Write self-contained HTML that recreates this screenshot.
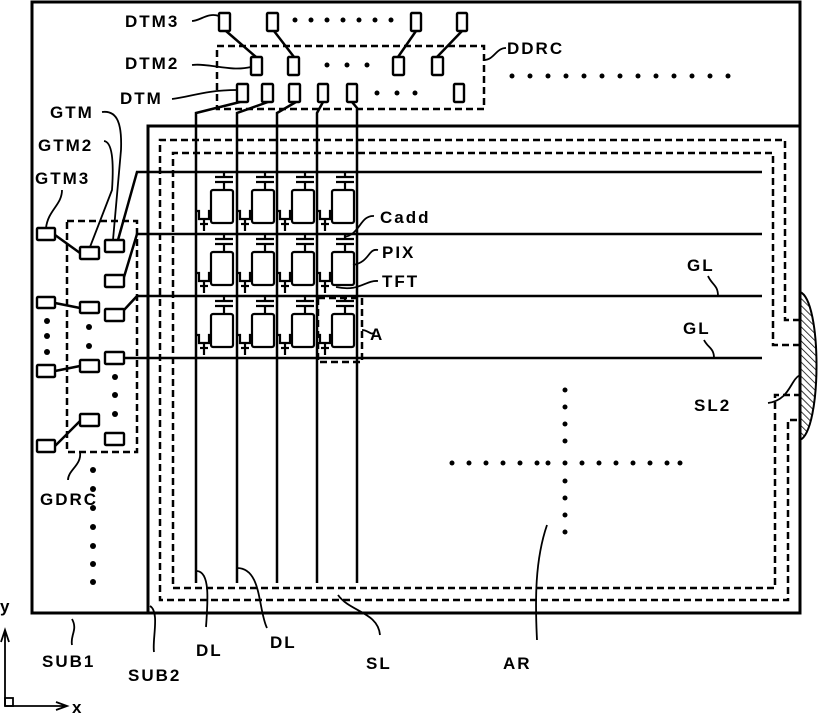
<!DOCTYPE html>
<html><head><meta charset="utf-8"><style>
html,body{margin:0;padding:0;background:#fff}
svg{display:block}
text{font-family:"Liberation Sans",sans-serif;font-size:17px;font-weight:bold;letter-spacing:2px;fill:#000}
</style></head><body>
<svg width="818" height="714" viewBox="0 0 818 714" xmlns="http://www.w3.org/2000/svg">
<defs>
<g id="px" fill="none" stroke="#000" stroke-width="2.2">
<line x1="28" y1="0" x2="28" y2="5"/>
<line x1="19" y1="5" x2="37" y2="5"/>
<line x1="19" y1="10" x2="37" y2="10"/>
<line x1="28" y1="10" x2="28" y2="18"/>
<rect x="15" y="18" width="22" height="33" rx="2"/>
<path d="M0,39 H3 V47 H13 V39 H15"/>
<line x1="8" y1="47" x2="8" y2="59"/>
<line x1="4" y1="52" x2="12" y2="52"/>
</g>
<pattern id="hat" width="5" height="5" patternUnits="userSpaceOnUse" patternTransform="rotate(-45)">
<line x1="0" y1="0" x2="0" y2="5" stroke="#000" stroke-width="1.5"/>
</pattern>
</defs>
<g fill="none" stroke="#000" stroke-width="3">
<rect x="32" y="2" width="768" height="611"/>
<path d="M148,613 V126 H800"/>
</g>
<path d="M800,292 C822,300 822,430 800,440 Z" fill="url(#hat)" stroke="#000" stroke-width="2"/>
<g fill="none" stroke="#000" stroke-width="2.5" stroke-dasharray="7,4">
<path d="M800,320 H785 V140 H160 V600 H788 V420 H800"/>
<path d="M800,345 H773 V153 H173 V588 H775 V395 H800"/>
<rect x="217" y="46" width="267" height="63"/>
<rect x="67" y="221" width="70" height="231"/>
<rect x="318" y="298" width="44" height="64"/>
</g>
<g stroke="#000" stroke-width="2.5" fill="none">
<path d="M118,240 L137,172 H762"/>
<path d="M124,277 L137,234 H762"/>
<path d="M124,310 L137,296 H762"/>
<path d="M124,358 H762"/>
<path d="M240,102 L196,113 V583"/>
<path d="M268,102 L237,113 V583"/>
<path d="M296,102 L277,113 V583"/>
<path d="M323,102 L317,113 V583"/>
<path d="M352,102 L357,108 V583"/>
<line x1="226" y1="31" x2="256" y2="57"/>
<line x1="274" y1="31" x2="294" y2="57"/>
<line x1="416" y1="31" x2="398" y2="57"/>
<line x1="462" y1="31" x2="437" y2="57"/>
<line x1="55" y1="235" x2="80" y2="253"/>
<line x1="55" y1="303" x2="80" y2="308"/>
<line x1="55" y1="371" x2="80" y2="366"/>
<line x1="55" y1="446" x2="80" y2="421"/>
</g>
<g fill="#fff" stroke="#000" stroke-width="2.4">
<rect x="219" y="13" width="11" height="18" rx="1"/>
<rect x="267" y="13" width="11" height="18" rx="1"/>
<rect x="411" y="13" width="10" height="18" rx="1"/>
<rect x="457" y="13" width="10" height="18" rx="1"/>
<rect x="251" y="57" width="11" height="18" rx="1"/>
<rect x="288" y="57" width="11" height="18" rx="1"/>
<rect x="393" y="57" width="11" height="18" rx="1"/>
<rect x="432" y="57" width="11" height="18" rx="1"/>
<rect x="237" y="84" width="11" height="18" rx="1"/>
<rect x="262" y="84" width="11" height="18" rx="1"/>
<rect x="289" y="84" width="11" height="18" rx="1"/>
<rect x="318" y="84" width="10" height="18" rx="1"/>
<rect x="347" y="84" width="10" height="18" rx="1"/>
<rect x="454" y="84" width="10" height="18" rx="1"/>
<rect x="37" y="228" width="18" height="12" rx="1"/>
<rect x="80" y="247" width="19" height="12" rx="1"/>
<rect x="105" y="240" width="19" height="12" rx="1"/>
<rect x="105" y="275" width="19" height="12" rx="1"/>
<rect x="37" y="297" width="18" height="11" rx="1"/>
<rect x="80" y="302" width="19" height="11" rx="1"/>
<rect x="105" y="309" width="19" height="12" rx="1"/>
<rect x="37" y="365" width="18" height="12" rx="1"/>
<rect x="80" y="360" width="19" height="12" rx="1"/>
<rect x="105" y="352" width="19" height="12" rx="1"/>
<rect x="80" y="414" width="19" height="12" rx="1"/>
<rect x="37" y="440" width="18" height="12" rx="1"/>
<rect x="105" y="433" width="19" height="12" rx="1"/>
</g>
<use href="#px" x="196" y="172"/><use href="#px" x="237" y="172"/><use href="#px" x="277" y="172"/><use href="#px" x="317" y="172"/>
<use href="#px" x="196" y="234"/><use href="#px" x="237" y="234"/><use href="#px" x="277" y="234"/><use href="#px" x="317" y="234"/>
<use href="#px" x="196" y="296"/><use href="#px" x="237" y="296"/><use href="#px" x="277" y="296"/><use href="#px" x="317" y="296"/>
<g fill="#000">
<circle cx="295" cy="20" r="2.5"/><circle cx="311" cy="20" r="2.5"/><circle cx="327" cy="20" r="2.5"/><circle cx="343" cy="20" r="2.5"/><circle cx="359" cy="20" r="2.5"/><circle cx="375" cy="20" r="2.5"/><circle cx="391" cy="20" r="2.5"/>
<circle cx="327" cy="65" r="2.5"/><circle cx="347" cy="65" r="2.5"/><circle cx="367" cy="65" r="2.5"/>
<circle cx="377" cy="93" r="2.5"/><circle cx="397" cy="93" r="2.5"/><circle cx="415" cy="93" r="2.5"/>
<circle cx="512" cy="76" r="2.5"/><circle cx="530" cy="76" r="2.5"/><circle cx="548" cy="76" r="2.5"/><circle cx="566" cy="76" r="2.5"/><circle cx="584" cy="76" r="2.5"/><circle cx="602" cy="76" r="2.5"/><circle cx="620" cy="76" r="2.5"/><circle cx="638" cy="76" r="2.5"/><circle cx="656" cy="76" r="2.5"/><circle cx="674" cy="76" r="2.5"/><circle cx="692" cy="76" r="2.5"/><circle cx="710" cy="76" r="2.5"/><circle cx="728" cy="76" r="2.5"/>
<circle cx="47" cy="321" r="3"/><circle cx="47" cy="336" r="3"/><circle cx="47" cy="352" r="3"/>
<circle cx="89" cy="327" r="3"/><circle cx="89" cy="346" r="3"/>
<circle cx="115" cy="377" r="3"/><circle cx="115" cy="395" r="3"/><circle cx="115" cy="414" r="3"/>
<circle cx="93" cy="470" r="3"/><circle cx="93" cy="489" r="3"/><circle cx="93" cy="508" r="3"/><circle cx="93" cy="527" r="3"/><circle cx="93" cy="546" r="3"/><circle cx="93" cy="564" r="3"/><circle cx="93" cy="582" r="3"/>
<circle cx="565" cy="390" r="2.5"/><circle cx="565" cy="407" r="2.5"/><circle cx="565" cy="424" r="2.5"/><circle cx="565" cy="441" r="2.5"/><circle cx="565" cy="463" r="2.5"/><circle cx="565" cy="481" r="2.5"/><circle cx="565" cy="498" r="2.5"/><circle cx="565" cy="515" r="2.5"/><circle cx="565" cy="532" r="2.5"/>
<circle cx="452" cy="463" r="2.5"/><circle cx="469" cy="463" r="2.5"/><circle cx="486" cy="463" r="2.5"/><circle cx="503" cy="463" r="2.5"/><circle cx="520" cy="463" r="2.5"/><circle cx="537" cy="463" r="2.5"/><circle cx="548" cy="463" r="2.5"/><circle cx="582" cy="463" r="2.5"/><circle cx="599" cy="463" r="2.5"/><circle cx="616" cy="463" r="2.5"/><circle cx="633" cy="463" r="2.5"/><circle cx="650" cy="463" r="2.5"/><circle cx="667" cy="463" r="2.5"/><circle cx="680" cy="463" r="2.5"/>
</g>
<g fill="none" stroke="#000" stroke-width="1.8">
<path d="M192,21 C200,21 208,12 219,16"/>
<path d="M192,65 C210,63 230,72 251,67"/>
<path d="M172,99 C190,97 205,90 237,90"/>
<path d="M484,60 C494,60 496,48 506,48"/>
<path d="M102,112 C118,110 122,125 121,150 L113,240"/>
<path d="M104,141 C112,142 114,160 112,190 L90,247"/>
<path d="M62,190 C62,205 48,210 46,228"/>
<path d="M80,452 C82,465 68,470 68,480"/>
<path d="M362,330 C368,330 370,335 374,333"/>
<path d="M344,237 C360,235 360,215 374,216"/>
<path d="M353,265 C370,262 368,248 378,250"/>
<path d="M336,287 C360,292 365,280 378,281"/>
<path d="M708,276 C712,285 718,285 718,296"/>
<path d="M704,340 C708,348 714,348 714,358"/>
<path d="M768,403 C790,400 790,380 800,375"/>
<path d="M72,619 C78,630 70,635 72,645"/>
<path d="M150,606 C160,612 152,640 154,652"/>
<path d="M197,571 C210,572 208,600 206,627"/>
<path d="M237,568 C262,568 258,610 267,628"/>
<path d="M338,595 C350,612 378,612 380,635"/>
<path d="M547,525 C535,560 535,600 537,640"/>
</g>
<g fill="none" stroke="#000" stroke-width="1.8">
<path d="M5,706 V630 M1,642 L5,630 L9,642"/>
<path d="M5,706 H66 M56,702 L67,706 L56,710"/>
<rect x="5" y="698" width="8" height="8"/>
</g>
<text x="125" y="27">DTM3</text>
<text x="125" y="69">DTM2</text>
<text x="120" y="104">DTM</text>
<text x="507" y="54">DDRC</text>
<text x="50" y="118">GTM</text>
<text x="38" y="151">GTM2</text>
<text x="35" y="184">GTM3</text>
<text x="40" y="505">GDRC</text>
<text x="380" y="223">Cadd</text>
<text x="382" y="258">PIX</text>
<text x="382" y="287">TFT</text>
<text x="370" y="340">A</text>
<text x="687" y="271">GL</text>
<text x="683" y="334">GL</text>
<text x="694" y="411">SL2</text>
<text x="42" y="667">SUB1</text>
<text x="128" y="681">SUB2</text>
<text x="196" y="656">DL</text>
<text x="270" y="648">DL</text>
<text x="366" y="669">SL</text>
<text x="503" y="669">AR</text>
<text x="0" y="612">y</text>
<text x="72" y="713">x</text>
</svg>
</body></html>
